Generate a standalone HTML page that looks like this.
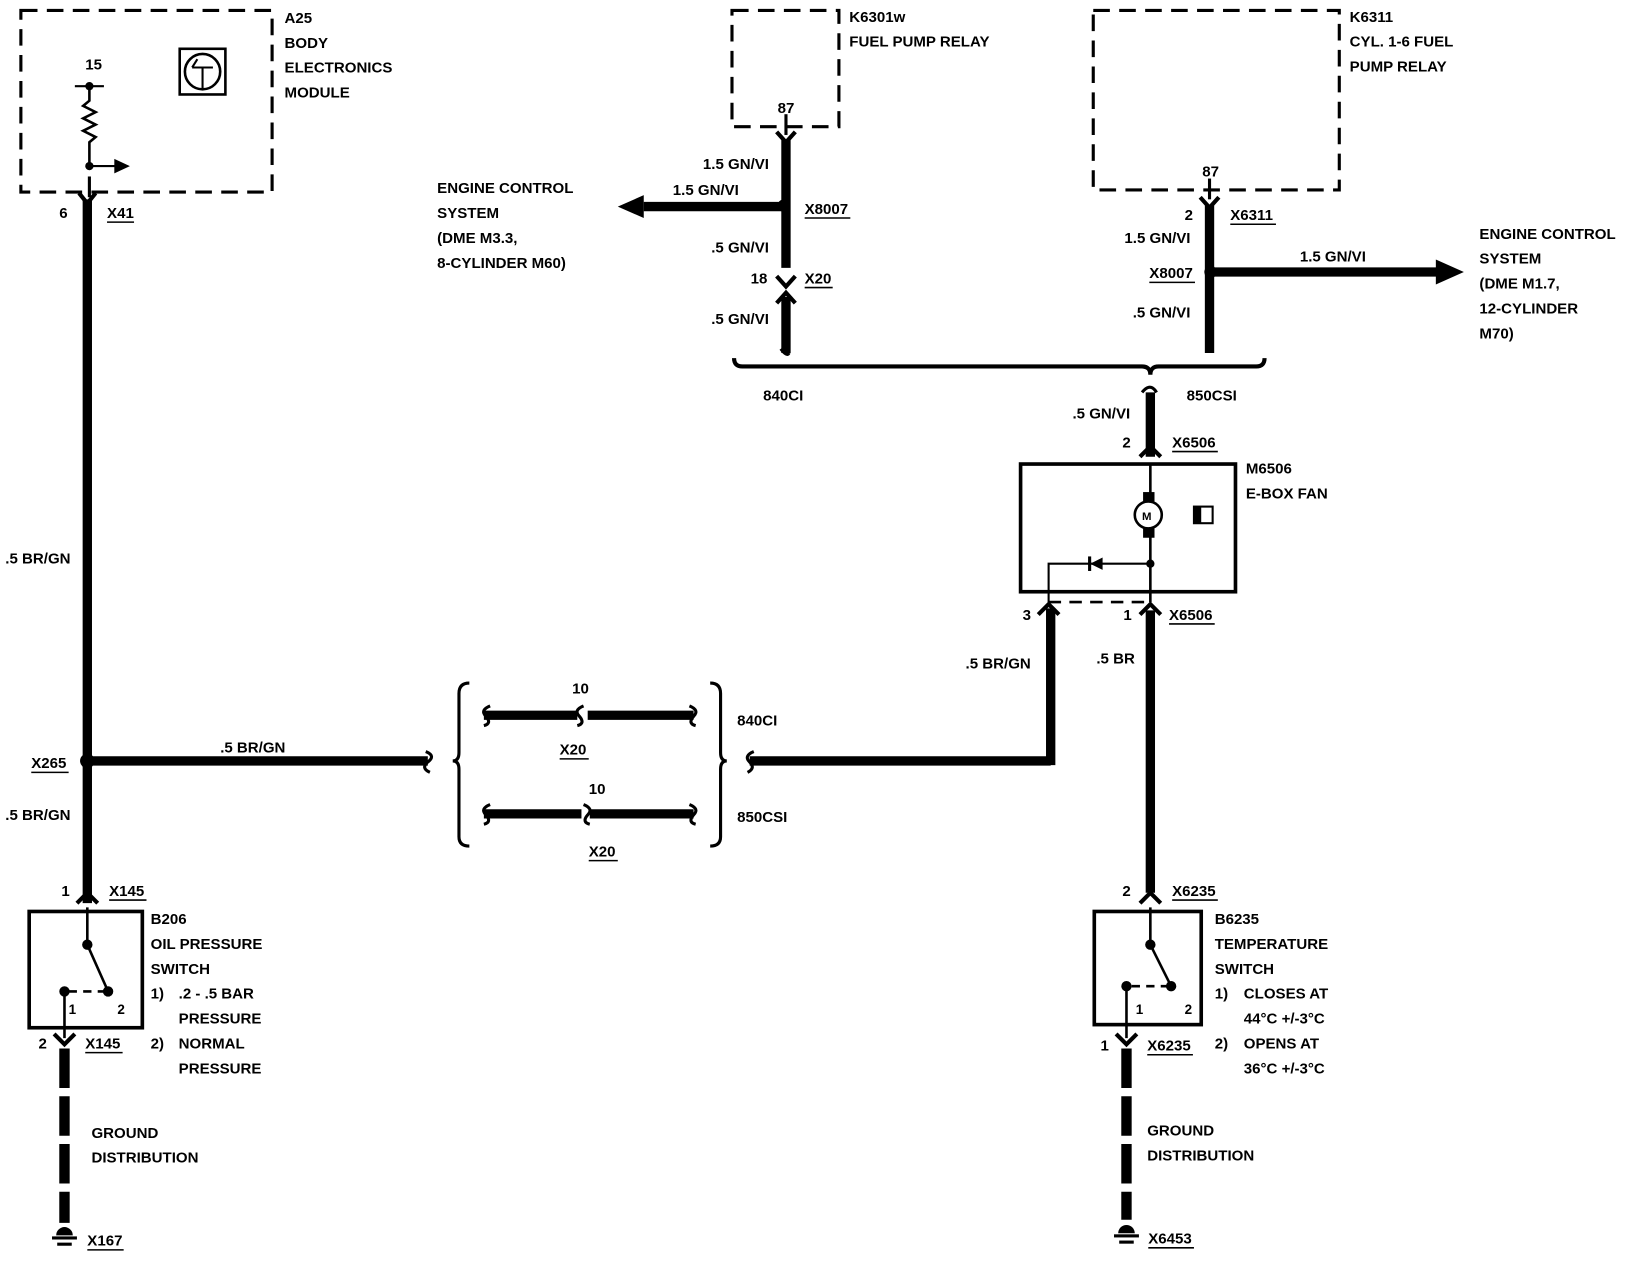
<!DOCTYPE html>
<html><head><meta charset="utf-8"><style>
html,body{margin:0;padding:0;background:#fff;}
svg{display:block;}
text{font-family:"Liberation Sans",sans-serif;font-size:14.5px;font-weight:bold;fill:#000;}
</style></head><body>
<svg width="1628" height="1280" viewBox="0 0 1568 1233" xmlns="http://www.w3.org/2000/svg">
<g fill="none" stroke="#000">
<!-- A25 box -->
<rect x="20" y="10" width="242" height="175" stroke-width="3" stroke-dasharray="16,9"/>
<line x1="72" y1="83" x2="100" y2="83" stroke-width="2"/>
<path d="M86,83 L86,97 L80,102 L92,108 L80,114 L92,120 L80,126 L92,132 L86,137 L86,160" stroke-width="2.5"/>
<line x1="86" y1="160" x2="112" y2="160" stroke-width="2"/>
<rect x="173" y="47" width="44" height="44" stroke-width="2.5"/>
<circle cx="195" cy="69" r="17" stroke-width="2.5"/>
<path d="M185,65 L205,65 M195,65 L195,85 M185,65 L190,57" stroke-width="2"/>
<!-- left main wire -->
<line x1="84" y1="192" x2="84" y2="870" stroke-width="9"/>
<line x1="86" y1="170" x2="86" y2="190" stroke-width="3"/>
<path d="M76,186 L84,196 L92,186" stroke-width="4"/>
<line x1="84" y1="733" x2="412" y2="733" stroke-width="9"/>
<path d="M410,724 Q420,728 412,734 Q405,740 414,744" stroke-width="3"/>
<path d="M74,870 L84,860 L94,870" stroke-width="4"/>
<!-- B206 -->
<rect x="28" y="878" width="109" height="112" stroke-width="3.5"/>
<path d="M84,874 L84,910 L104,955" stroke-width="2.5"/>
<path d="M62,955 L62,1000" stroke-width="2.5"/>
<path d="M66,955 L100,955" stroke-width="2.5" stroke-dasharray="8,6"/>
<path d="M52,996 L62,1006 L72,996" stroke-width="4"/>
<line x1="62" y1="1010" x2="62" y2="1178" stroke-width="10" stroke-dasharray="38,8"/>
<!-- bracket group -->
<path d="M452,658 Q442,658 442,668 L442,725 Q442,733 436,733 Q442,733 442,741 L442,806 Q442,815 452,815" stroke-width="3"/>
<path d="M684,658 Q694,658 694,668 L694,725 Q694,733 700,733 Q694,733 694,741 L694,806 Q694,815 684,815" stroke-width="3"/>
<line x1="466" y1="689" x2="556" y2="689" stroke-width="9"/>
<line x1="566" y1="689" x2="668" y2="689" stroke-width="9"/>
<line x1="466" y1="784" x2="560" y2="784" stroke-width="9"/>
<line x1="568" y1="784" x2="668" y2="784" stroke-width="9"/>
<path d="M472,680 Q462,684 468,690 Q474,697 466,699" stroke-width="3"/>
<path d="M664,680 Q674,684 668,690 Q662,697 670,699" stroke-width="3"/>
<path d="M562,680 Q552,684 558,690 Q564,697 556,699" stroke-width="3"/>
<path d="M472,775 Q462,779 468,785 Q474,792 466,794" stroke-width="3"/>
<path d="M664,775 Q674,779 668,785 Q662,792 670,794" stroke-width="3"/>
<path d="M562,775 Q572,779 566,785 Q560,792 568,794" stroke-width="3"/>
<line x1="722" y1="733" x2="1012" y2="733" stroke-width="9"/>
<path d="M726,724 Q716,728 722,734 Q728,740 720,744" stroke-width="3"/>
<line x1="1012" y1="737" x2="1012" y2="586" stroke-width="9"/>
<!-- K6301w -->
<rect x="705" y="10" width="103" height="112" stroke-width="3" stroke-dasharray="16,9"/>
<line x1="757" y1="110" x2="757" y2="130" stroke-width="3"/>
<path d="M748,127 L757,137 L766,127" stroke-width="4"/>
<line x1="757" y1="135" x2="757" y2="258" stroke-width="9"/>
<path d="M748,266 L757,276 L766,266" stroke-width="4"/>
<path d="M748,292 L757,282 L766,292" stroke-width="4"/>
<line x1="757" y1="286" x2="757" y2="340" stroke-width="9"/>
<path d="M752,336 Q758,344 760,340" stroke-width="3"/>
<line x1="620" y1="199" x2="757" y2="199" stroke-width="9"/>
<!-- K6311 -->
<rect x="1053" y="10" width="237" height="173" stroke-width="3" stroke-dasharray="16,9"/>
<line x1="1165" y1="172" x2="1165" y2="192" stroke-width="3"/>
<path d="M1156,190 L1165,200 L1174,190" stroke-width="4"/>
<line x1="1165" y1="198" x2="1165" y2="340" stroke-width="9"/>
<line x1="1166" y1="262" x2="1385" y2="262" stroke-width="9"/>
<!-- brace -->
<path d="M707,345 Q707,353 715,353 L1100,353 Q1108,353 1108,361 Q1108,353 1116,353 L1210,353 Q1218,353 1218,345" stroke-width="4"/>
<path d="M1100,378 Q1108,368 1114,378" stroke-width="3"/>
<line x1="1108" y1="378" x2="1108" y2="440" stroke-width="9"/>
<path d="M1098,440 L1108,430 L1118,440" stroke-width="4"/>
<!-- M6506 -->
<rect x="983" y="447" width="207" height="123" stroke-width="3.5"/>
<line x1="1108" y1="447" x2="1108" y2="580" stroke-width="2.5"/>
<circle cx="1106" cy="496" r="13" stroke-width="2.5" fill="#fff"/>
<path d="M1010,580 L1010,543 L1108,543" stroke-width="2"/>
<path d="M1010,580 L1108,580" stroke-width="2.5" stroke-dasharray="12,8"/>
<path d="M1000,592 L1010,582 L1020,592" stroke-width="4"/>
<path d="M1098,592 L1108,582 L1118,592" stroke-width="4"/>
<line x1="1108" y1="588" x2="1108" y2="860" stroke-width="9"/>
<path d="M1098,870 L1108,860 L1118,870" stroke-width="4"/>
<!-- B6235 -->
<rect x="1054" y="878" width="103" height="109" stroke-width="3.5"/>
<path d="M1108,874 L1108,910 L1128,950" stroke-width="2.5"/>
<path d="M1085,950 L1085,1000" stroke-width="2.5"/>
<path d="M1090,950 L1124,950" stroke-width="2.5" stroke-dasharray="8,6"/>
<path d="M1075,996 L1085,1006 L1095,996" stroke-width="4"/>
<line x1="1085" y1="1010" x2="1085" y2="1175" stroke-width="10" stroke-dasharray="38,8"/>
</g>
<g fill="#000">
<circle cx="86" cy="83" r="4"/><circle cx="86" cy="160" r="4"/>
<polygon points="110,153 125,160 110,167"/>
<circle cx="84" cy="733" r="7"/>
<circle cx="755" cy="198" r="6"/>
<polygon points="620,188 595,199 620,210"/>
<circle cx="1166" cy="262" r="6"/>
<polygon points="1383,250 1410,262 1383,274"/>
<rect x="1101" y="474" width="11" height="9"/><rect x="1101" y="509" width="11" height="9"/>
<polygon points="1050,543 1062,537 1062,549"/><rect x="1048" y="536" width="3" height="14"/>
<circle cx="1108" cy="543" r="4"/>
<rect x="1150" y="488" width="18" height="16" fill="#fff" stroke="#000" stroke-width="2"/><rect x="1150" y="488" width="7" height="16"/>
<circle cx="84" cy="910" r="5"/><circle cx="104" cy="955" r="5"/><circle cx="62" cy="955" r="5"/>
<circle cx="1108" cy="910" r="5"/><circle cx="1128" cy="950" r="5"/><circle cx="1085" cy="950" r="5"/>
<path d="M54,1190 a8,8 0 0 1 16,0 z"/><rect x="50" y="1191" width="24" height="3"/><rect x="55" y="1197" width="14" height="3"/>
<path d="M1077,1188 a8,8 0 0 1 16,0 z"/><rect x="1073" y="1189" width="24" height="3"/><rect x="1078" y="1195" width="14" height="3"/>
</g>
<text x="1100" y="501" style="font-size:11px">M</text>
<g>
<text x="274" y="22">A25</text><text x="274" y="46">BODY</text><text x="274" y="70">ELECTRONICS</text><text x="274" y="94">MODULE</text>
<text x="82" y="67">15</text>
<text x="57" y="210">6</text><text x="103" y="210">X41</text>
<text x="5" y="543">.5 BR/GN</text>
<text x="30" y="740">X265</text>
<text x="5" y="790">.5 BR/GN</text>
<text x="212" y="725">.5 BR/GN</text>
<text x="59" y="863">1</text><text x="105" y="863">X145</text>
<text x="145" y="890">B206</text><text x="145" y="914">OIL PRESSURE</text><text x="145" y="938">SWITCH</text>
<text x="145" y="962">1)</text><text x="172" y="962">.2 - .5 BAR</text><text x="172" y="986">PRESSURE</text>
<text x="145" y="1010">2)</text><text x="172" y="1010">NORMAL</text><text x="172" y="1034">PRESSURE</text>
<text x="66" y="977" style="font-size:13px">1</text><text x="113" y="977" style="font-size:13px">2</text>
<text x="37" y="1010">2</text><text x="82" y="1010">X145</text>
<text x="88" y="1096">GROUND</text><text x="88" y="1120">DISTRIBUTION</text>
<text x="84" y="1200">X167</text>
<text x="551" y="668">10</text><text x="539" y="727">X20</text>
<text x="567" y="765">10</text><text x="567" y="825">X20</text>
<text x="710" y="699">840CI</text><text x="710" y="792">850CSI</text>
<text x="818" y="21">K6301w</text><text x="818" y="45">FUEL PUMP RELAY</text>
<text x="749" y="109">87</text>
<text x="677" y="163">1.5 GN/VI</text><text x="648" y="188">1.5 GN/VI</text>
<text x="775" y="206">X8007</text>
<text x="685" y="243">.5 GN/VI</text>
<text x="723" y="273">18</text><text x="775" y="273">X20</text>
<text x="685" y="312">.5 GN/VI</text>
<text x="421" y="186">ENGINE CONTROL</text><text x="421" y="210">SYSTEM</text><text x="421" y="234">(DME M3.3,</text><text x="421" y="258">8-CYLINDER M60)</text>
<text x="1300" y="21">K6311</text><text x="1300" y="45">CYL. 1-6 FUEL</text><text x="1300" y="69">PUMP RELAY</text>
<text x="1158" y="170">87</text>
<text x="1141" y="212">2</text><text x="1185" y="212">X6311</text>
<text x="1083" y="234">1.5 GN/VI</text>
<text x="1107" y="268">X8007</text>
<text x="1252" y="252">1.5 GN/VI</text>
<text x="1091" y="306">.5 GN/VI</text>
<text x="1425" y="230">ENGINE CONTROL</text><text x="1425" y="254">SYSTEM</text><text x="1425" y="278">(DME M1.7,</text><text x="1425" y="302">12-CYLINDER</text><text x="1425" y="326">M70)</text>
<text x="735" y="386">840CI</text><text x="1143" y="386">850CSI</text>
<text x="1033" y="403">.5 GN/VI</text>
<text x="1081" y="431">2</text><text x="1129" y="431">X6506</text>
<text x="1200" y="456">M6506</text><text x="1200" y="480">E-BOX FAN</text>
<text x="985" y="597">3</text><text x="1082" y="597">1</text><text x="1126" y="597">X6506</text>
<text x="930" y="644">.5 BR/GN</text><text x="1056" y="639">.5 BR</text>
<text x="1081" y="863">2</text><text x="1129" y="863">X6235</text>
<text x="1170" y="890">B6235</text><text x="1170" y="914">TEMPERATURE</text><text x="1170" y="938">SWITCH</text>
<text x="1170" y="962">1)</text><text x="1198" y="962">CLOSES AT</text><text x="1198" y="986">44°C +/-3°C</text>
<text x="1170" y="1010">2)</text><text x="1198" y="1010">OPENS AT</text><text x="1198" y="1034">36°C +/-3°C</text>
<text x="1094" y="977" style="font-size:13px">1</text><text x="1141" y="977" style="font-size:13px">2</text>
<text x="1060" y="1012">1</text><text x="1105" y="1012">X6235</text>
<text x="1105" y="1094">GROUND</text><text x="1105" y="1118">DISTRIBUTION</text>
<text x="1106" y="1198">X6453</text>
</g>
<g stroke="#000" stroke-width="1.5">
<line x1="103" y1="214" x2="129" y2="214"/><line x1="30" y1="744" x2="66" y2="744"/>
<line x1="105" y1="867" x2="141" y2="867"/><line x1="82" y1="1014" x2="118" y2="1014"/>
<line x1="84" y1="1204" x2="119" y2="1204"/><line x1="539" y1="731" x2="567" y2="731"/>
<line x1="567" y1="829" x2="595" y2="829"/><line x1="775" y1="210" x2="819" y2="210"/>
<line x1="775" y1="277" x2="802" y2="277"/><line x1="1185" y1="216" x2="1229" y2="216"/>
<line x1="1107" y1="272" x2="1151" y2="272"/><line x1="1129" y1="435" x2="1173" y2="435"/>
<line x1="1126" y1="601" x2="1170" y2="601"/><line x1="1129" y1="867" x2="1173" y2="867"/>
<line x1="1105" y1="1016" x2="1149" y2="1016"/><line x1="1106" y1="1202" x2="1150" y2="1202"/>
</g>
</svg>
</body></html>
